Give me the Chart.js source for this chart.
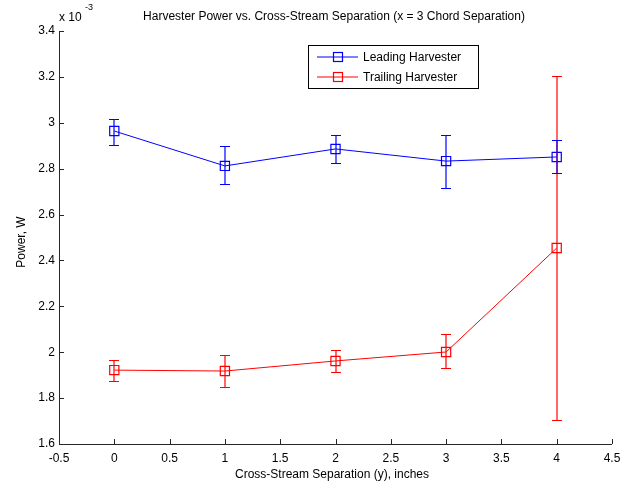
<!DOCTYPE html>
<html>
<head>
<meta charset="utf-8">
<script src="https://cdn.jsdelivr.net/npm/chart.js@4/dist/chart.umd.min.js"></script>
<style>
  html, body { margin: 0; padding: 0; background: #fff; }
  #wrap { width: 630px; height: 483px; position: relative; }
</style>
</head>
<body>
<div id="wrap"><canvas id="c"></canvas></div>
<script>
// Cross-stream separation (inches)
const separations = [0, 1, 2, 3, 4];
// Power values in units of 1e-3 W
const leadingPower = [2.964, 2.812, 2.886, 2.833, 2.851];
const leadingUpper = [3.016, 2.899, 2.947, 2.947, 2.925];
const leadingLower = [2.903, 2.733, 2.825, 2.716, 2.781];
const trailingPower = [1.922, 1.918, 1.962, 2.001, 2.454];
const trailingUpper = [1.966, 1.988, 2.009, 2.079, 3.204];
const trailingLower = [1.874, 1.848, 1.914, 1.931, 1.704];
const seriesNames = ['Leading Harvester', 'Trailing Harvester'];
const xTickValues = [-0.5, 0, 0.5, 1, 1.5, 2, 2.5, 3, 3.5, 4, 4.5];
const yTickValues = [1.6, 1.8, 2.0, 2.2, 2.4, 2.6, 2.8, 3.0, 3.2, 3.4];
const titleText = 'Harvester Power vs. Cross-Stream Separation (x = 3 Chord Separation)';
const xTitle = 'Cross-Stream Separation (y), inches';
const yTitle = 'Power, W';

const FONT = '"Liberation Sans", Arial, sans-serif';
const errors = [
  { upper: trailingUpper, lower: trailingLower, color: '#ff0000' },
  { upper: leadingUpper, lower: leadingLower, color: '#0000ff' }
];

const decor = {
  id: 'decor',
  afterDatasetsDraw(chart) {
    const ctx = chart.ctx;
    const xs = chart.scales.x, ys = chart.scales.y;
    ctx.save();
    // error bars
    errors.forEach((e) => {
      ctx.strokeStyle = e.color;
      ctx.lineWidth = 1.2;
      separations.forEach((sx, i) => {
        const px = Math.round(xs.getPixelForValue(sx));
        const pt = ys.getPixelForValue(e.upper[i]);
        const pb = ys.getPixelForValue(e.lower[i]);
        ctx.beginPath();
        ctx.moveTo(px, pt); ctx.lineTo(px, pb);
        ctx.stroke();
        ctx.beginPath();
        ctx.moveTo(px - 5, Math.round(pt) + 0.5); ctx.lineTo(px + 5, Math.round(pt) + 0.5);
        ctx.moveTo(px - 5, Math.round(pb) + 0.5); ctx.lineTo(px + 5, Math.round(pb) + 0.5);
        ctx.stroke();
      });
    });
    ctx.restore();
  },
  afterDraw(chart) {
    const ctx = chart.ctx;
    const xs = chart.scales.x, ys = chart.scales.y;
    const a = chart.chartArea;
    ctx.save();
    // axis lines
    ctx.strokeStyle = '#262626';
    ctx.lineWidth = 1;
    ctx.beginPath();
    ctx.moveTo(a.left + 0.5, a.top); ctx.lineTo(a.left + 0.5, a.bottom + 0.5);
    ctx.lineTo(a.right, a.bottom + 0.5);
    ctx.stroke();
    // inward ticks
    ctx.beginPath();
    xTickValues.forEach(v => {
      const px = Math.round(xs.getPixelForValue(v)) + 0.5;
      ctx.moveTo(px, a.bottom); ctx.lineTo(px, a.bottom - 5);
    });
    yTickValues.forEach(v => {
      const py = Math.round(ys.getPixelForValue(v)) + 0.5;
      ctx.moveTo(a.left, py); ctx.lineTo(a.left + 5, py);
    });
    ctx.stroke();

    ctx.fillStyle = '#000';
    // title
    ctx.font = '12px ' + FONT;
    ctx.textAlign = 'center';
    ctx.textBaseline = 'middle';
    ctx.fillText(titleText, 334, 17);
    // exponent label
    ctx.textAlign = 'left';
    ctx.fillText('x 10', 59, 18);
    ctx.font = '9px ' + FONT;
    ctx.fillText('-3', 85, 8);
    // x title
    ctx.font = '12px ' + FONT;
    ctx.textAlign = 'center';
    ctx.fillText(xTitle, 332, 475);
    // y title
    ctx.save();
    ctx.translate(22, 242);
    ctx.rotate(-Math.PI / 2);
    ctx.fillText(yTitle, 0, 0);
    ctx.restore();

    // legend
    const lx = 308.5, ly = 45.5, lw = 170, lh = 43;
    ctx.fillStyle = '#fff';
    ctx.fillRect(lx, ly, lw, lh);
    ctx.strokeStyle = '#000';
    ctx.lineWidth = 1;
    ctx.strokeRect(lx, ly, lw, lh);
    chart.data.datasets.forEach((ds, i) => {
      const y = 57 + i * 20;
      ctx.strokeStyle = ds.borderColor;
      ctx.lineWidth = 1.2;
      ctx.beginPath();
      ctx.moveTo(317, y); ctx.lineTo(358, y);
      ctx.stroke();
      ctx.strokeRect(333.5, y - 4.5, 9, 9);
      ctx.fillStyle = '#000';
      ctx.font = '12px ' + FONT;
      ctx.textAlign = 'left';
      ctx.textBaseline = 'middle';
      ctx.fillText(ds.label, 363, y + 1);
    });
    ctx.restore();
  }
};

const mk = (label, data, color) => ({
  label,
  data: separations.map((x, i) => ({ x, y: data[i] })),
  borderColor: color,
  backgroundColor: 'rgba(0,0,0,0)',
  borderWidth: 1,
  pointStyle: 'rect',
  pointRadius: 6.5,
  pointBorderWidth: 1.2,
  pointBorderColor: color,
  pointBackgroundColor: 'rgba(0,0,0,0)',
  tension: 0,
  fill: false
});

new Chart(document.getElementById('c'), {
  type: 'line',
  data: {
    datasets: [
      mk(seriesNames[0], leadingPower, '#0000ff'),
      mk(seriesNames[1], trailingPower, '#ff0000')
    ]
  },
  options: {
    responsive: true,
    maintainAspectRatio: false,
    animation: false,
    devicePixelRatio: 1,
    layout: { padding: { top: 31, right: 18, left: 0, bottom: 0 } },
    plugins: { legend: { display: false }, title: { display: false }, tooltip: { enabled: false } },
    scales: {
      x: {
        type: 'linear', min: -0.5, max: 4.5,
        afterBuildTicks: s => { s.ticks = xTickValues.map(v => ({ value: v })); },
        afterFit: s => { s.height = 39; },
        grid: { display: false, drawTicks: false },
        border: { display: false },
        ticks: { color: '#000', font: { family: FONT, size: 12 }, padding: 7, maxRotation: 0,
                 callback: v => String(v) }
      },
      y: {
        type: 'linear', min: 1.6, max: 3.4,
        afterBuildTicks: s => { s.ticks = yTickValues.map(v => ({ value: v })); },
        afterFit: s => { s.width = 59; },
        grid: { display: false, drawTicks: false },
        border: { display: false },
        ticks: { color: '#000', font: { family: FONT, size: 12 }, padding: 4,
                 callback: v => String(Math.round(v * 10) / 10) }
      }
    }
  },
  plugins: [decor]
});
</script>
</body>
</html>
